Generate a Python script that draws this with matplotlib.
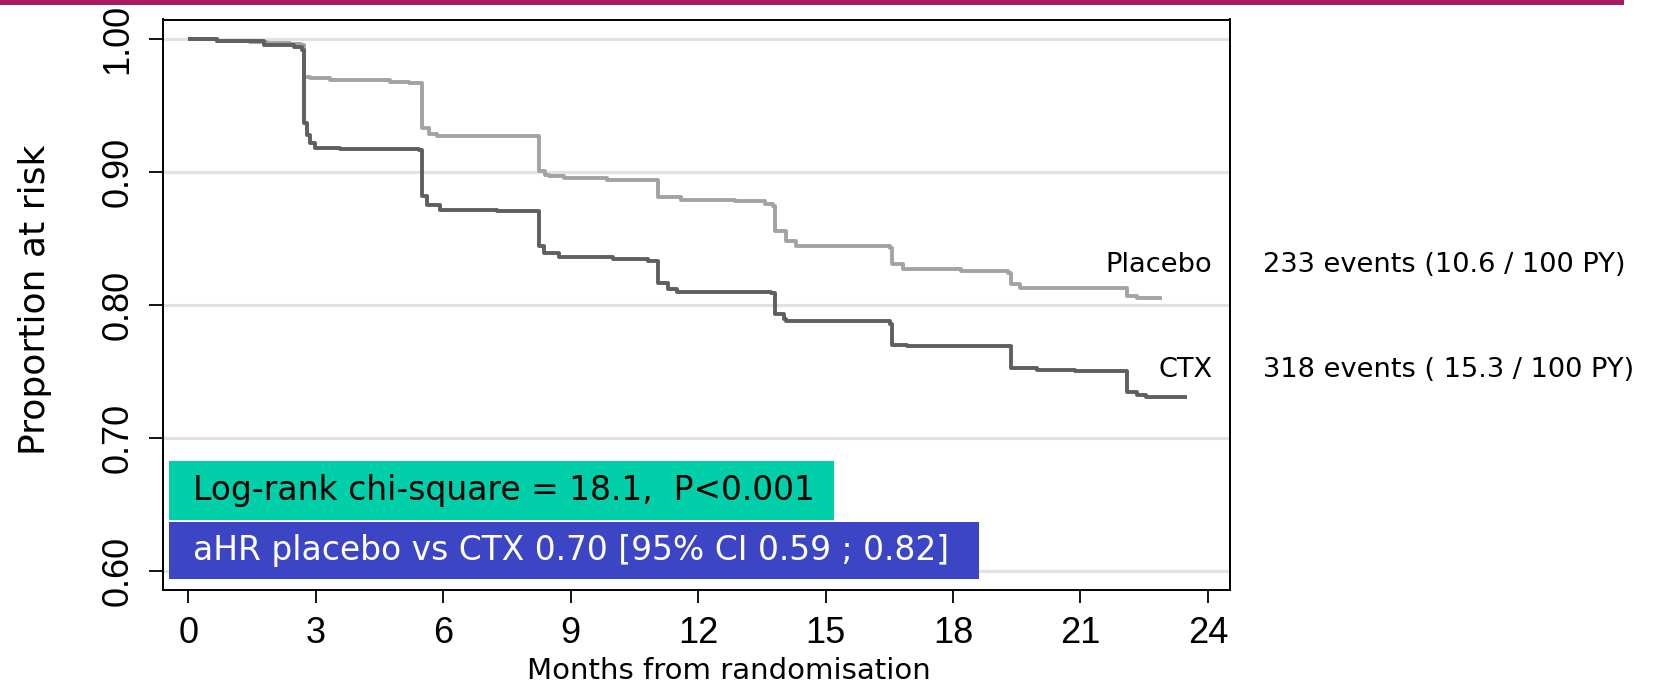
import matplotlib
matplotlib.use("Agg")
import matplotlib.pyplot as plt
from matplotlib.patches import Rectangle

# ---- data ----
placebo_t = [0, 0.67, 1.45, 1.85, 2.40, 2.65, 2.73, 2.87, 3.34, 4.75, 5.20, 5.50, 5.66, 5.85,
             8.25, 8.40, 8.50, 8.84, 9.86, 10.83, 11.05, 11.59, 12.86, 13.58, 13.76, 13.80,
             14.07, 14.30, 16.51, 16.57, 16.82, 18.18, 19.30, 19.37, 19.57, 22.10, 22.32, 22.93]
placebo_s = [1.0, 0.9988, 0.998, 0.9968, 0.996, 0.9955, 0.9718, 0.9705, 0.9693, 0.968, 0.967,
             0.933, 0.929, 0.9268, 0.9005, 0.898, 0.8968, 0.8955, 0.8943, 0.894, 0.8811,
             0.8793, 0.8786, 0.8761, 0.8748, 0.856, 0.8484, 0.8446, 0.8433, 0.8307, 0.827,
             0.8257, 0.8244, 0.8156, 0.8131, 0.8068, 0.8055, 0.8055]

ctx_t = [0, 0.67, 1.77, 2.48, 2.67, 2.73, 2.79, 2.87, 2.99, 3.57, 5.42, 5.50, 5.62, 5.93,
         7.27, 8.25, 8.37, 8.72, 10.0, 10.83, 11.05, 11.28, 11.50, 13.71, 13.80, 14.03,
         14.07, 16.51, 16.57, 16.91, 19.37, 19.98, 20.88, 22.10, 22.32, 22.55, 23.50]
ctx_s = [1.0, 0.9985, 0.9955, 0.9943, 0.9918, 0.9368, 0.928, 0.9218, 0.918, 0.9173, 0.9163,
         0.8818, 0.8755, 0.8718, 0.8705, 0.8443, 0.8393, 0.8363, 0.835, 0.8333, 0.8169,
         0.8118, 0.8098, 0.8093, 0.793, 0.7892, 0.788, 0.7859, 0.7703, 0.769, 0.7526,
         0.7514, 0.7501, 0.735, 0.7325, 0.7307, 0.7307]

x_ticks = [0, 3, 6, 9, 12, 15, 18, 21, 24]
y_ticks = [0.60, 0.70, 0.80, 0.90, 1.00]
y_ticklabels = ["0.60", "0.70", "0.80", "0.90", "1.00"]

group_labels = ["Placebo", "CTX"]
group_label_y = [0.830, 0.751]
event_texts = ["233 events (10.6 / 100 PY)", "318 events ( 15.3 / 100 PY)"]
logrank_text = "Log-rank chi-square = 18.1,  P<0.001"
hr_text = "aHR placebo vs CTX 0.70 [95% CI 0.59 ; 0.82]"

# ---- figure ----
W, H = 1653, 688
fig = plt.figure(figsize=(W / 100, H / 100), dpi=100)
fig.patch.set_facecolor("white")

# magenta top band
fig.patches.append(Rectangle((0, 1 - 5 / H), 1624 / W, 5 / H, transform=fig.transFigure,
                             facecolor="#A51C5E", edgecolor="none"))

ax_l, ax_r, ax_t, ax_b = 163.3, 1230.0, 19.5, 590.0
ax = fig.add_axes([ax_l / W, 1 - ax_b / H, (ax_r - ax_l) / W, (ax_b - ax_t) / H])
ax.set_xlim(-0.59, 24.52)
ax.set_ylim(0.5857, 1.0148)

for yv in y_ticks:
    ax.axhline(yv, color="#e2e2e2", lw=2.3, zorder=0)

ax.plot(placebo_t, placebo_s, drawstyle="steps-post", color="#a3a3a3", lw=2.8,
        solid_joinstyle="round", solid_capstyle="butt", zorder=3)
ax.plot(ctx_t, ctx_s, drawstyle="steps-post", color="#5f5f5f", lw=2.8,
        solid_joinstyle="round", solid_capstyle="butt", zorder=3)

for sp in ax.spines.values():
    sp.set_linewidth(1.4)
    sp.set_color("black")

ax.set_xticks(x_ticks)
ax.set_xticklabels([str(v) for v in x_ticks])
ax.set_yticks(y_ticks)
ax.set_yticklabels(y_ticklabels, rotation=90, va="center")
ax.tick_params(axis="both", labelsize=26, labelfontfamily="Liberation Sans")
ax.tick_params(axis="x", length=9, width=1.3, pad=10)
ax.tick_params(axis="y", length=10, width=1.3, pad=10)

txt_font = "DejaVu Sans"
fig.text(728.5 / W, 1 - 671 / H, "Months from randomisation", ha="center", va="center",
         fontsize=21, family=txt_font)
fig.text(35 / W, 1 - 300 / H, "Proportion at risk", ha="center", va="center",
         rotation=90, fontsize=26, family=txt_font)

for lab, yv, ev in zip(group_labels, group_label_y, event_texts):
    ax.text(24.1, yv, lab, ha="right", va="center", fontsize=19.6, family=txt_font)
    ax.text(25.3, yv, ev, ha="left", va="center", fontsize=19.6, family=txt_font, clip_on=False)

# annotation boxes
ax.add_patch(Rectangle((-0.46, 0.6386), 15.65, 0.0444, facecolor="#00CFAA",
                       edgecolor="none", zorder=5))
ax.add_patch(Rectangle((-0.46, 0.5936), 19.07, 0.0434, facecolor="#3C46C5",
                       edgecolor="none", zorder=5))
ax.text(0.11, 0.6608, logrank_text, ha="left", va="center", fontsize=23.7,
        family=txt_font, color="black", zorder=6)
ax.text(0.11, 0.6153, hr_text, ha="left", va="center", fontsize=23.7,
        family=txt_font, color="white", zorder=6)

fig.savefig("out.png", dpi=100, facecolor="white")
